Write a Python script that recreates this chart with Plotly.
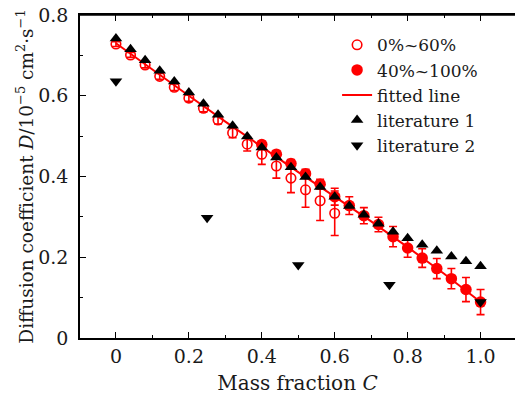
import plotly.graph_objects as go

# ---------------- data ----------------
lit1_x = [0.00, 0.04, 0.08, 0.12, 0.16, 0.20, 0.24, 0.28, 0.32, 0.36, 0.40, 0.44, 0.48,
          0.52, 0.56, 0.60, 0.64, 0.68, 0.72, 0.76, 0.80, 0.84, 0.88, 0.92, 0.96, 1.00]
lit1_y = [0.742, 0.715, 0.688, 0.662, 0.635, 0.608, 0.580, 0.553, 0.526, 0.499, 0.472, 0.447, 0.423,
          0.399, 0.374, 0.350, 0.327, 0.305, 0.283, 0.263, 0.247, 0.231, 0.216, 0.202, 0.190, 0.178]

lit2_x = [0.00, 0.25, 0.50, 0.75, 1.00]
lit2_y = [0.636, 0.298, 0.181, 0.132, 0.089]

open_x = [0.00, 0.04, 0.08, 0.12, 0.16, 0.20, 0.24, 0.28, 0.32, 0.36, 0.40, 0.44, 0.48, 0.52, 0.56, 0.60]
open_y = [0.728, 0.701, 0.676, 0.648, 0.621, 0.594, 0.569, 0.540, 0.508, 0.480, 0.455, 0.426, 0.396, 0.367, 0.340, 0.309]
open_err = [0.006, 0.006, 0.007, 0.007, 0.008, 0.008, 0.009, 0.010, 0.012, 0.017, 0.025, 0.030, 0.036, 0.043, 0.049, 0.055]

fill_x = [0.40, 0.44, 0.48, 0.52, 0.56, 0.60, 0.64, 0.68, 0.72, 0.76, 0.80, 0.84, 0.88, 0.92, 0.96, 1.00]
fill_y = [0.479, 0.455, 0.432, 0.407, 0.381, 0.350, 0.328, 0.303, 0.281, 0.251, 0.223, 0.198, 0.172, 0.147, 0.120, 0.089]
fill_err = [0.008, 0.009, 0.010, 0.011, 0.012, 0.021, 0.022, 0.020, 0.018, 0.025, 0.023, 0.023, 0.025, 0.025, 0.030, 0.031]

fit_x = [0.0, 0.1, 0.2, 0.3, 0.4, 0.5, 0.6, 0.7, 0.8, 0.9, 1.0]
fit_y = [0.730, 0.664, 0.600, 0.536, 0.473, 0.411, 0.350, 0.289, 0.225, 0.159, 0.089]

x_tickvals = [0, 0.2, 0.4, 0.6, 0.8, 1.0]
x_ticktext = ["0", "0.2", "0.4", "0.6", "0.8", "1.0"]
y_tickvals = [0, 0.2, 0.4, 0.6, 0.8]
y_ticktext = ["0 ", "0.2 ", "0.4 ", "0.6 ", "0.8 "]

RED = "#ff0000"
FONT = "DejaVu Serif"
TXT = "#1a1a1a"

fig = go.Figure()

fig.add_trace(go.Scatter(
    x=fit_x, y=fit_y, mode="lines", name="fitted line",
    line=dict(color=RED, width=2), legendrank=3))

fig.add_trace(go.Scatter(
    x=open_x, y=open_y, mode="markers", name="0%~60%",
    marker=dict(symbol="circle-open", size=9.5, color=RED, line=dict(width=1.6, color=RED)),
    error_y=dict(type="data", array=open_err, color=RED, thickness=1.6, width=4),
    legendrank=1))

fig.add_trace(go.Scatter(
    x=fill_x, y=fill_y, mode="markers", name="40%~100%",
    marker=dict(symbol="circle", size=11.5, color=RED),
    error_y=dict(type="data", array=fill_err, color=RED, thickness=1.6, width=4),
    legendrank=2))

fig.add_trace(go.Scatter(
    x=lit1_x, y=lit1_y, mode="markers", name="literature 1",
    marker=dict(symbol="triangle-up", size=11, color="black"),
    legendrank=4))

fig.add_trace(go.Scatter(
    x=lit2_x, y=lit2_y, mode="markers", name="literature 2",
    marker=dict(symbol="triangle-down", size=11, color="black"),
    legendrank=5))

fig.update_layout(
    width=515, height=397,
    margin=dict(l=80, r=0, t=15, b=59),
    plot_bgcolor="white", paper_bgcolor="white",
    font=dict(family=FONT, size=17, color=TXT),
    showlegend=True,
    legend=dict(x=0.591, y=0.962, xanchor="left", yanchor="top",
                bgcolor="rgba(0,0,0,0)", font=dict(size=17, family=FONT, color=TXT),
                tracegroupgap=0, itemwidth=30),
    xaxis=dict(range=[-0.0986, 1.0945], showgrid=False, zeroline=False, automargin=False,
               showline=True, linecolor="black", linewidth=1.6, mirror="ticks",
               ticks="inside", ticklen=6, tickwidth=1.4, tickcolor="black",
               tickvals=x_tickvals, ticktext=x_ticktext, tickfont=dict(size=19),
               minor=dict(ticks="inside", ticklen=3, tickwidth=1.2, dtick=0.1, tick0=0, tickcolor="black"),
               title=dict(text="Mass fraction <i>C</i>", font=dict(size=20, family=FONT), standoff=10)),
    yaxis=dict(range=[0, 0.8], showgrid=False, zeroline=False, automargin=False,
               showline=True, linecolor="black", linewidth=1.6, mirror=False,
               ticks="inside", ticklen=6, tickwidth=1.4, tickcolor="black",
               tickvals=y_tickvals, ticktext=y_ticktext, tickfont=dict(size=19),
               minor=dict(ticks="inside", ticklen=3, tickwidth=1.2, dtick=0.1, tick0=0, tickcolor="black"),
               title=dict(text="Diffusion coefficient <i>D</i>/10<sup>−5</sup> cm<sup>2</sup>·s<sup>−1</sup>",
                          font=dict(size=18.5, family=FONT), standoff=0)),
    shapes=[dict(type="line", xref="paper", yref="paper", x0=0, x1=1, y0=1, y1=1,
                 line=dict(color="black", width=1.6), layer="above")],
)

# remove the default 8px page margin so the figure fills the window exactly
fig.write_html("out.html", config={"displayModeBar": False},
               post_script="document.body.style.margin='0px';")
